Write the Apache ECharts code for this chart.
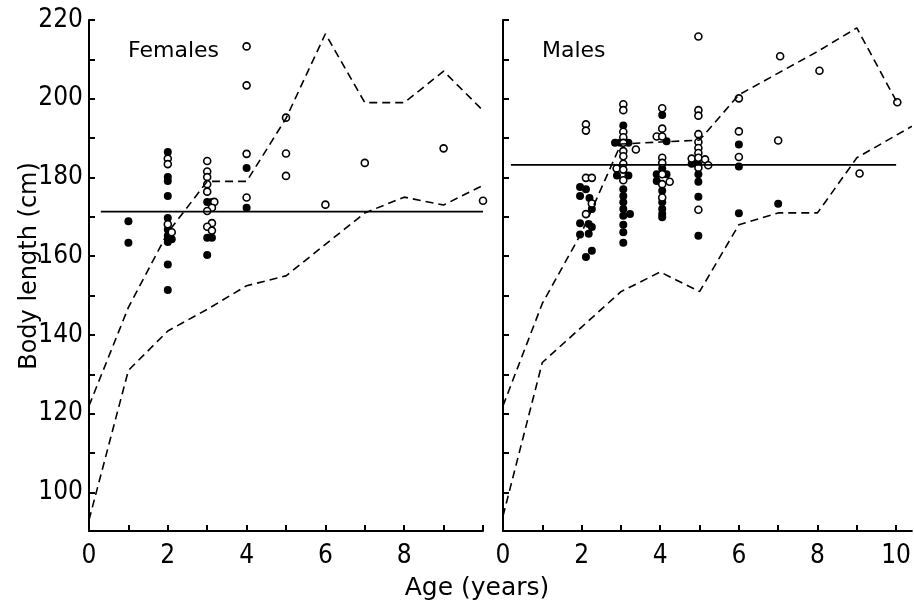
<!DOCTYPE html>
<html>
<head>
<meta charset="utf-8">
<script src="https://cdn.jsdelivr.net/npm/echarts@6/dist/echarts.min.js"></script>
<style>
  html, body { margin: 0; padding: 0; background: #fff; }
  #chart { width: 914px; height: 605px; }
</style>
</head>
<body>
<div id="chart"></div>
<script>
// 数据：[年龄, 体长 cm]
const femaleFilled = [
  [1, 168.9], [1, 163.4],
  [2, 186.5], [2, 180.1], [2, 179.1], [2, 175.3], [2, 169.7], [2, 166.8], [2, 165.2],
  [2.1, 164.3], [2, 163.6], [2, 157.9], [2, 151.4],
  [3, 173.8], [3.12, 173.8], [3, 164.7], [3.12, 164.7], [3, 160.3],
  [4, 182.4], [4, 172.3]
];
const femaleOpen = [
  [2, 184.8], [2, 183.4], [2, 168.1], [2.1, 166.1],
  [3, 184.2], [3, 181.5], [3, 180.1], [3, 178.3], [3, 176.4], [3.18, 173.8], [3.12, 172.3],
  [3, 171.5], [3.12, 168.4], [3, 167.5], [3.12, 166.5],
  [4, 213.3], [4, 203.4], [4, 186.0], [4, 174.9],
  [5, 195.2], [5, 186.1], [5, 180.4],
  [6, 173.1], [7, 183.7], [9, 187.4], [10, 174.1]
];
const femaleMean = [[0.3, 171.3], [10, 171.3]];
const femaleUpper = [
  [0, 122], [1, 147], [2, 166], [3, 179], [4, 179], [5, 195],
  [6, 216.5], [7, 199], [8, 199], [9, 207], [10, 197]
];
const femaleLower = [
  [0, 93], [1, 131], [2, 141], [3, 146.5], [4, 152.5], [5, 155],
  [6, 163], [7, 171], [8, 175], [9, 173], [10, 178]
];

const maleFilled = [
  [1.96, 177.6], [2.11, 177.0], [1.96, 175.3], [2.2, 174.8], [2.26, 172.0], [1.96, 168.4],
  [2.18, 168.2], [2.26, 167.4], [1.96, 165.5], [2.18, 165.7], [2.26, 161.4], [2.11, 159.8],
  [3.06, 193.2], [2.85, 188.8], [2.98, 188.8], [3.19, 188.8], [2.9, 180.5], [3.19, 180.5],
  [3.06, 177.0], [3.06, 175.3], [3.06, 173.7], [3.06, 172.0], [3.23, 170.7], [3.06, 170.3],
  [3.06, 168.0], [3.06, 166.1], [3.06, 163.4],
  [4.05, 195.9], [4.16, 189.2], [4.05, 182.3], [3.91, 180.8], [4.16, 180.8], [3.91, 179.1],
  [4.05, 176.6], [4.05, 173.7], [4.05, 172.0], [4.05, 170.7], [4.05, 169.9],
  [4.8, 183.5], [4.89, 183.8], [4.97, 183.3], [4.97, 180.8], [4.97, 178.9], [4.97, 175.1], [4.97, 165.2],
  [6, 188.4], [6, 182.8], [6, 170.9],
  [7, 173.3]
];
const maleOpen = [
  [2.11, 193.5], [2.11, 191.9], [2.11, 179.9], [2.26, 179.9], [2.26, 173.4], [2.11, 170.7],
  [3.06, 198.6], [3.06, 197.1], [3.06, 191.6], [3.06, 190.2], [3.06, 188.8], [3.38, 187.1],
  [3.06, 186.7], [3.06, 185.4], [3.06, 183.5], [2.89, 182.3], [3.06, 182.0], [3.06, 179.3],
  [4.05, 197.6], [4.05, 192.4], [3.91, 190.4], [4.05, 190.4], [4.05, 185.0], [4.05, 183.7],
  [4.05, 180.8], [4.24, 178.9], [4.05, 178.3], [4.05, 174.9],
  [4.97, 215.8], [4.97, 197.1], [4.97, 195.7], [4.97, 191.0], [4.97, 189.0], [4.97, 187.5],
  [4.97, 186.2], [4.8, 184.8], [4.97, 185.0], [5.14, 184.6], [5.22, 183.1], [4.97, 182.5], [4.97, 171.8],
  [6, 200.1], [6, 191.7], [6, 185.2],
  [7.05, 210.8], [7, 189.4], [8.05, 207.1], [9.07, 181], [10.03, 199.1]
];
const maleMean = [[0.2, 183.2], [10, 183.2]];
const maleUpper = [
  [0, 122], [1, 148], [2, 166], [3, 188.5], [4, 189], [5, 189.5],
  [6, 201], [7, 206.5], [8, 212], [9, 218], [10, 199.5]
];
const maleLower = [
  [0, 94], [1, 133], [2, 142], [3, 151], [4, 156], [5, 151],
  [6, 168], [7, 171], [8, 171], [9, 185], [10.4, 193]
];

const xTicks = [0, 1, 2, 3, 4, 5, 6, 7, 8, 9, 10];
const xLabelsLeft = [0, 2, 4, 6, 8];
const xLabelsRight = [0, 2, 4, 6, 8, 10];
const yTicks = [100, 110, 120, 130, 140, 150, 160, 170, 180, 190, 200, 210, 220];
const yLabels = [100, 120, 140, 160, 180, 200, 220];

const tickFont = "'Liberation Sans Narrow', 'DejaVu Sans Condensed', sans-serif";
const textFont = "'DejaVu Sans', sans-serif";

const chart = echarts.init(document.getElementById('chart'));

const makeX = (idx, max, labels) => ({
  type: 'value', gridIndex: idx, min: 0, max: max,
  axisLine: { lineStyle: { color: '#000', width: 2 } },
  axisTick: { inside: true, length: 6, customValues: xTicks, lineStyle: { color: '#000', width: 2 } },
  axisLabel: { customValues: labels, color: '#000', fontSize: 26, fontFamily: tickFont, margin: 12 },
  splitLine: { show: false }
});

const makeY = (idx, showLabel) => ({
  type: 'value', gridIndex: idx, min: 90.2, max: 220,
  axisLine: { show: true, lineStyle: { color: '#000', width: 2 } },
  axisTick: { inside: true, length: 6, customValues: yTicks, lineStyle: { color: '#000', width: 2 } },
  axisLabel: { show: showLabel, customValues: yLabels, color: '#000', fontSize: 26, fontFamily: tickFont, margin: 6 },
  splitLine: { show: false }
});

const dashed = (idx, data) => ({
  type: 'line', xAxisIndex: idx, yAxisIndex: idx, data: data,
  symbol: 'none', silent: true,
  lineStyle: { color: '#000', width: 1.6, type: [8, 5] }
});
const solid = (idx, data) => ({
  type: 'line', xAxisIndex: idx, yAxisIndex: idx, data: data,
  symbol: 'none', silent: true,
  lineStyle: { color: '#000', width: 1.8 }
});
const dots = (idx, data) => ({
  type: 'scatter', xAxisIndex: idx, yAxisIndex: idx, data: data,
  symbolSize: 8, itemStyle: { color: '#000', opacity: 1 }
});
const rings = (idx, data) => ({
  type: 'scatter', xAxisIndex: idx, yAxisIndex: idx, data: data,
  symbolSize: 7, itemStyle: { color: '#fff', borderColor: '#000', borderWidth: 1.6, opacity: 1 }
});

const option = {
  animation: false,
  backgroundColor: '#fff',
  grid: [
    { left: 89, top: 20, width: 394, height: 511 },
    { left: 503, top: 20, width: 409, height: 511 }
  ],
  xAxis: [makeX(0, 10, xLabelsLeft), makeX(1, 10.4, xLabelsRight)],
  yAxis: [makeY(0, true), makeY(1, false)],
  series: [
    dashed(0, femaleUpper), dashed(0, femaleLower), solid(0, femaleMean),
    dots(0, femaleFilled), rings(0, femaleOpen),
    dashed(1, maleUpper), dashed(1, maleLower), solid(1, maleMean),
    dots(1, maleFilled), rings(1, maleOpen)
  ],
  graphic: [
    { type: 'text', left: 128, top: 40, style: { text: 'Females', font: '22px ' + textFont, fill: '#000' } },
    { type: 'text', left: 542, top: 40, style: { text: 'Males', font: '22px ' + textFont, fill: '#000' } },
    { type: 'text', x: 30, y: 266, rotation: Math.PI / 2,
      style: { text: 'Body length (cm)', font: '24px ' + textFont, fill: '#000', align: 'center', verticalAlign: 'middle' } },
    { type: 'text', x: 477, y: 588,
      style: { text: 'Age (years)', font: '25px ' + textFont, fill: '#000', align: 'center', verticalAlign: 'middle' } }
  ]
};

chart.setOption(option);
</script>
</body>
</html>
